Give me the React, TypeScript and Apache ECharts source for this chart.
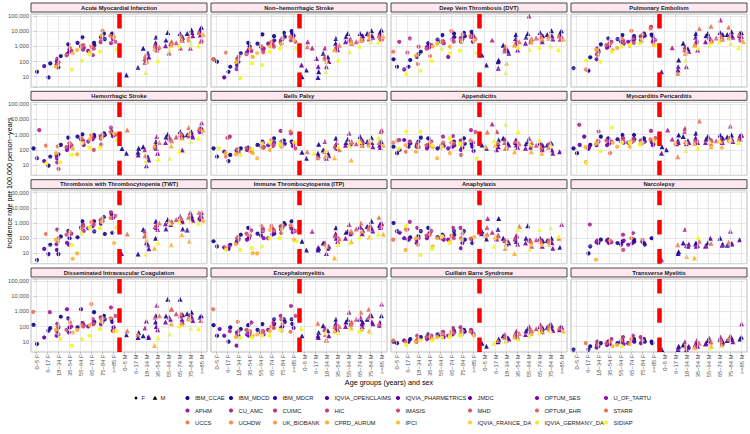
import React, { useEffect, useRef } from "react";
import * as echarts from "echarts";

const _ = null;

const ageGroups = ["0−5", "6−17", "18−34", "35−54", "55−64", "65−74", "75−84", ">=85"];
const sexes = ["F", "M"];
const categories = sexes.flatMap((s) => ageGroups.map((a) => `${a} ${s}`));

const dataSources = [
  "IBM_CCAE", "IBM_MDCD", "IBM_MDCR", "IQVIA_OPENCLAIMS", "IQVIA_PHARMETRICS", "JMDC", "OPTUM_SES", "U_OF_TARTU",
  "APHM", "CU_AMC", "CUIMC", "HIC", "IMASIS", "MHD", "OPTUM_EHR", "STARR",
  "UCCS", "UCHDW", "UK_BIOBANK", "CPRD_AURUM", "IPCI", "IQVIA_FRANCE_DA", "IQVIA_GERMANY_DA", "SIDIAP",
];
// sources whose points are plotted (column order of every rate table)
const plottedSources = ["IBM_CCAE", "IBM_MDCD", "IQVIA_PHARMETRICS", "OPTUM_SES", "CU_AMC", "IMASIS", "STARR", "CPRD_AURUM", "SIDIAP"];

const panelTitles = [
  "Acute Myocardial Infarction", "Non−hemorrhagic Stroke", "Deep Vein Thrombosis (DVT)", "Pulmonary Embolism",
  "Hemorrhagic Stroke", "Bells Palsy", "Appendicitis", "Myocarditis Pericarditis",
  "Thrombosis with Thrombocytopenia (TWT)", "Immune Thrombocytopenia (ITP)", "Anaphylaxis", "Narcolepsy",
  "Disseminated Intravascular Coagulation", "Encephalomyelitis", "Guillain Barre Syndrome", "Transverse Myelitis",
];

const yTickValues = [10, 100, 1000, 10000, 100000];

// rows: categories (0−5 F ... >=85 M), columns: plottedSources
const amiRates = [
  [_, 21, _, _, _, _, _, _, _],
  [75, 9, 50, _, _, _, _, _, _],
  [230, 40, 100, 60, 150, 90, 60, 45, _],
  [1350, 650, 400, 300, 500, 250, 770, 350, 30],
  [3900, 1700, 1000, 800, 600, 1200, 900, 570, 110],
  [1700, 1200, 800, 500, 270, 700, 1000, 400, 300],
  [7000, 3000, 5000, 4000, 1900, 2500, 10700, 5000, 440],
  [6000, 7000, 4000, 3000, 1600, 2000, 5000, 4000, 630],
  [_, 13, _, _, _, _, _, _, _],
  [_, 41, _, _, _, _, _, _, _],
  [740, 360, 200, 125, 90, 150, 250, 100, 19],
  [4000, 1700, 1000, 800, 570, 1200, 900, 700, 113],
  [8000, 2600, 1500, 1100, 360, 2000, 1800, 1200, 570],
  [7000, 4000, 3000, 2500, 770, 1700, 5000, 2500, 1050],
  [12000, 7000, 8000, 5000, 740, 3000, 4000, 2500, 1300],
  [18000, 12000, 10000, 5600, 2600, 2200, 8000, 6000, 1050],
];
const nhsRates = [
  [140, 97, _, _, _, _, 140, _, _],
  [45, 21, 9, _, _, _, 380, _, _],
  [350, 97, 59, 32, 150, 200, 120, 90, 8],
  [1700, 950, 600, 400, 500, 300, 700, 200, 76],
  [6100, 1500, 900, 700, 600, 400, 1000, 350, 59],
  [4700, 2500, 2000, 1500, 1200, 950, 2000, 1000, 440],
  [7800, 4300, 3000, 2600, 2000, 1500, 3500, 1500, 740],
  [10000, 7000, 5000, 3000, 2500, 2000, 4000, 2500, 740],
  [10, 28, 59, _, 2000, _, 950, _, _],
  [21, 9, 45, 160, 770, _, _, _, _],
  [350, 200, 100, 45, 770, 200, 150, 100, 21],
  [3300, 1600, 800, 600, 1000, 700, 1200, 600, 125],
  [7000, 4300, 3000, 2000, 2500, 1600, 2500, 1800, 440],
  [7000, 5000, 4000, 3000, 2500, 2000, 3500, 2500, 1000],
  [10700, 7000, 5000, 4000, 3500, 3000, 6000, 4000, 2000],
  [12000, 8000, 6000, 4000, 3500, 3000, 5000, 4500, 2000],
];
const dvtRates = [
  [140, 45, _, _, 2000, _, 440, _, _],
  [125, 45, 30, _, 3300, 380, _, _, 15],
  [440, 300, 200, _, _, 950, 68, 250, 25],
  [1600, 1000, 800, 900, 1200, 700, 230, 1000, 108],
  [5500, 2800, 2000, 1600, 2200, 1800, 2000, 1500, 630],
  [7000, 4000, 3000, 200, 2500, 2000, 10000, 950, 350],
  [7800, 4700, 3000, 2000, 3500, 2500, 6000, 2000, 520],
  [9000, 6000, 4000, 2000, 4000, 3000, 5000, 2500, 350],
  [270, 59, _, _, _, _, _, _, _],
  [120, 97, 36, _, 2600, _, _, _, _],
  [1200, 500, 350, 740, 700, 500, 1000, 76, 18],
  [6100, 3300, 1500, 570, 2500, 1500, 2000, 1200, 900],
  [7000, 4000, 2000, 1600, 100000, 3000, 3000, 2000, 630],
  [8000, 5000, 3000, 2000, 4000, 3500, 5000, 3000, 900],
  [10700, 6000, 5000, 3000, 4000, 3500, 4500, 3500, 1050],
  [10700, 7000, 5000, 3000, 4000, 3000, 5000, 3000, 630],
];
const peRates = [
  [36, _, _, _, _, _, _, _, _],
  [190, 25, _, _, _, _, 30, _, 113],
  [1350, 500, 300, 140, 740, 400, 270, 600, 97],
  [3300, 1500, 1000, 800, 2000, 1200, 1500, 570, 440],
  [5500, 3000, 2000, 1500, 2500, 1800, 3300, 770, 1000],
  [4700, 3000, 2500, 2000, 3500, 1700, 10700, 1050, 1200],
  [7000, 5000, 4000, 2600, 4500, 2000, 6000, 3000, 1600],
  [6000, 5000, 3000, 2000, 19000, 2600, 15000, 1200, 1200],
  [_, _, 21, _, _, _, _, _, _],
  [125, 28, 45, _, 810, _, 17, _, _],
  [1570, 700, 450, 45, 950, 600, 350, 500, 125],
  [7000, 4000, 2000, 570, 2600, 1500, 15000, 1200, 770],
  [7000, 5000, 3000, 2000, 4000, 2500, 21000, 2000, 1200],
  [8000, 6000, 4000, 3000, 55000, 3500, 5000, 3000, 2000],
  [9000, 6000, 5000, 4000, 5000, 4000, 18000, 3500, 1600],
  [8000, 7000, 5000, 3500, 4500, 2600, 6000, 2000, 850],
];
const hemRates = [
  [125, 28, _, _, 2000, _, _, _, _],
  [35, 9, 18, _, _, _, 190, _, 13],
  [210, 50, 28, 40, 15, 5.5, 170, 60, 15],
  [630, 270, 150, 98, 200, 150, 250, 120, 46],
  [1050, 740, 500, 210, 400, 300, 600, 50, 270],
  [950, 740, 500, 350, 600, 98, 900, 500, 140],
  [1230, 950, 700, 570, 800, 230, 1000, 600, 140],
  [1600, 1200, 950, 800, 2900, 1000, 1500, 1200, 440],
  [120, 60, _, _, _, _, 2000, _, _],
  [125, 68, 46, _, _, _, _, _, _],
  [160, 35, 21, 9, 100, _, 40, _, 18],
  [350, 200, 125, 60, 740, 150, 300, 200, 25],
  [1050, 700, 500, 300, 600, 400, 500, 180, 28],
  [1600, 950, 700, 98, 1000, 700, 1200, 600, 82],
  [1500, 1000, 900, 700, 1500, 800, 2900, 1200, 350],
  [3000, 2500, 2000, 1600, 6000, 2000, 2500, 2000, 570],
];
const bellsRates = [
  [125, 35, _, _, _, _, _, _, 130],
  [46, 18, 75, _, 740, 600, 35, 60, _],
  [125, 75, 100, 90, 80, 60, 110, 50, 46],
  [140, 100, 120, 98, 90, 130, 80, 60, 110],
  [350, 210, 200, 150, 300, 140, 150, 28, 250],
  [570, 300, 250, 200, 180, 210, 440, 98, 300],
  [400, 250, 300, 200, 1750, 350, 200, 150, 230],
  [350, 300, 250, 180, 1230, 125, 1600, 300, 300],
  [68, 28, _, _, _, _, 75, _, _],
  [230, 60, 40, _, _, _, 30, _, 60],
  [98, 60, 40, 28, 350, 80, 35, 45, 90],
  [570, 200, 150, 120, 300, 180, 100, 30, 160],
  [500, 300, 250, 200, 1230, 350, 300, 21, 180],
  [740, 400, 300, 200, 500, 250, 350, 200, 350],
  [630, 350, 300, 160, 400, 300, 250, 200, 440],
  [350, 300, 200, 140, 2000, 1600, 300, 200, 630],
];
const appendRates = [
  [160, 60, 100, _, 440, 400, 300, _, 120],
  [270, 160, 440, 300, 350, _, 75, 200, 1600],
  [630, 350, 200, 160, 250, 150, 180, 75, 1600],
  [570, 250, 180, 125, 350, 200, 300, 150, 200],
  [210, 125, 150, 180, 740, 300, 200, 28, 150],
  [350, 200, 160, 125, 810, 250, 300, 60, 570],
  [570, 250, 140, 98, 400, 46, 300, 200, 250],
  [250, 160, 83, 300, 2000, 1500, 400, _, 28],
  [210, 125, _, _, _, _, 1500, 160, _],
  [440, 270, 160, 100, 5000, 1600, 300, 200, 400],
  [570, 270, 210, 150, 500, 300, 120, 160, 4800],
  [440, 300, 210, 150, 400, 350, 250, 75, 1600],
  [350, 250, 150, 125, 570, 300, 200, 75, 250],
  [300, 200, 140, 100, 250, 200, 150, 60, 440],
  [270, 210, 98, 60, 300, 250, 150, _, 210],
  [_, _, 75, _, _, _, _, _, _],
];
const myoRates = [
  [125, 60, 210, _, 4400, _, _, _, _],
  [210, 120, 740, 150, _, _, 15, 150, 14],
  [740, 350, 250, 200, 300, 1600, 400, 250, 80],
  [570, 300, 250, 200, 350, 400, 60, 300, 2900],
  [950, 500, 350, 300, 600, 400, 350, 160, 300],
  [950, 500, 350, 300, 500, 400, 350, 160, 300],
  [570, 350, 300, 250, 400, 350, 300, 300, 220],
  [350, 300, 250, 200, 1750, 600, 500, 400, 300],
  [160, 100, 60, _, 2000, _, _, _, _],
  [950, 400, 300, 250, 500, _, 35, 300, _],
  [740, 400, 300, 250, 2600, 1600, 350, 300, 90],
  [1230, 600, 400, 300, 500, 400, 7800, 250, 130],
  [740, 500, 400, 300, 600, 450, 250, 160, 350],
  [950, 600, 400, 300, 500, 400, 350, 160, 400],
  [950, 700, 500, 350, 3700, 600, 500, 400, 500],
  [950, 800, 600, 500, 900, _, 500, _, 300],
];
const twtRates = [
  [_, 3.6, _, _, _, _, _, _, _],
  [37, 9, 20, _, _, _, 190, _, _],
  [130, 9, 17, 40, 370, 100, 60, 80, _],
  [300, 100, 37, 50, 200, 170, 250, 4.4, 35],
  [1300, 115, 500, 300, 800, 600, 400, 10, 200],
  [1300, 280, 620, 450, 1000, 800, 1200, 500, 480],
  [2500, 190, 1300, 900, 1500, 1700, 2000, 1200, 450],
  [3600, 230, 2500, 2200, 5000, 3000, 2200, 48, 520],
  [_, _, 10, _, _, _, 190, _, _],
  [_, 9, _, _, _, _, _, _, _],
  [370, 37, 20, 50, 300, 140, 170, 80, 9],
  [1300, 100, 500, 370, 800, 600, 1000, 22, 50],
  [1700, 400, 800, 900, 1200, 1300, 1000, 37, 1000],
  [2800, 400, 1500, 1200, 2000, 1700, 2000, 170, 1200],
  [3000, 350, 2000, 1500, 5000, 2500, 2500, 63, 1200],
  [3000, 2200, 2500, 1800, 5000, 2500, 5000, 1500, 1000],
];
const itpRates = [
  [63, 29, _, _, _, _, _, _, _],
  [37, 20, 25, 30, _, _, 22, _, 17],
  [170, 100, 60, 50, 100, 80, 120, 40, 17],
  [480, 135, 100, 80, 320, 200, 150, 10.5, 22],
  [290, 200, 150, 100, 400, 300, 620, 10, 29],
  [290, 200, 180, 100, 400, 300, 620, 350, 100],
  [1000, 800, 500, 370, 600, 220, 700, 400, 100],
  [1300, 400, 300, 250, 480, 300, 700, 80, 63],
  [63, 17, _, _, _, _, _, _, _],
  [22, 17, 25, _, 290, _, _, _, _],
  [48, 22, 30, 10, 50, _, 40, 30, _],
  [480, 200, 100, 60, 150, 150, 90, 5, 40],
  [290, 250, 200, 100, 800, 250, 300, 60, 50],
  [600, 350, 300, 200, 500, 400, 1000, 300, 115],
  [1300, 600, 400, 300, 700, 400, 500, 120, 115],
  [1000, 800, 700, 500, 900, 600, 2400, 180, 190],
];
const anaRates = [
  [1000, 290, 230, _, _, _, 80, _, _],
  [115, 80, 100, 90, 1200, 370, 370, 17, 620],
  [290, 135, 80, 48, 480, 100, 37, 100, 8],
  [480, 220, 150, 100, 300, 150, 180, 29, 20],
  [170, 120, 100, 80, 150, 130, 110, 100, 130],
  [290, 170, 120, 80, 480, 100, 150, 60, 48],
  [290, 80, 48, 22, 480, 100, 200, 80, _],
  [90, 48, _, _, _, _, 90, 120, _],
  [290, 90, 200, _, 2000, 500, 180, 150, _],
  [2000, 370, 150, 90, 250, 100, 150, 120, 29],
  [100, 60, 48, 40, 70, 80, 22, 60, 29],
  [130, 90, 60, 40, 150, 100, 620, 10, 370],
  [650, 100, 70, 48, 80, 29, 60, 40, 19],
  [100, 70, 60, 29, 90, 80, 60, 40, 370],
  [100, 70, 50, 22, 80, 60, 70, 40, 480],
  [_, 25, _, _, 800, _, 100, _, 130],
];
const narcRates = [
  [_, _, _, _, _, _, _, _, _],
  [29, 10, _, _, 800, _, _, _, _],
  [80, 48, 60, 55, 70, _, _, 3.8, _],
  [80, 60, 48, 70, 55, _, 70, _, _],
  [60, 48, 37, 70, 170, 17, _, _, _],
  [80, 60, 48, 37, 220, _, 100, _, _],
  [48, 37, 60, _, _, _, 80, _, _],
  [100, _, _, _, _, _, _, _, _],
  [_, _, 3.8, _, _, _, _, _, _],
  [13, 10, _, _, _, _, 37, _, _],
  [48, 29, 40, 35, 370, _, _, 6.3, _],
  [48, 40, 29, 35, _, _, 63, 5, 115],
  [48, 35, 100, 29, _, _, 45, _, _],
  [100, 40, 35, _, _, _, _, _, _],
  [40, 35, 45, _, 290, _, 55, _, _],
  [_, _, 80, _, _, _, _, _, _],
];
const dicRates = [
  [130, 7, _, _, _, _, 930, _, _],
  [79, 53, 19, _, 880, _, _, _, _],
  [440, 87, 50, 25, 150, 30, 100, 60, 15],
  [340, 87, 40, 1380, 100, 60, 185, 40, 5.5],
  [170, 87, 1380, 120, 150, 100, 120, 60, 15],
  [880, 200, 150, 100, 300, 150, 3000, 120, 25],
  [510, 300, 200, 145, 400, 300, 350, 200, 68],
  [300, 200, 87, 53, 1800, 500, 350, 50, 50],
  [_, 29, _, _, _, _, 53, _, _],
  [40, 19, _, _, _, _, 30, _, _],
  [25, 19, 20, 230, 80, _, _, _, _],
  [510, 200, 100, 60, 2500, 400, 510, 5.5, 18],
  [6300, 500, 300, 200, 400, 1380, 1380, 150, 32],
  [6300, 600, 300, 200, 500, 700, 700, 150, 112],
  [880, 700, 400, 250, 600, 400, 350, 300, 80],
  [510, 400, _, _, _, 250, _, _, 70],
];
const encRates = [
  [123, 25, 68, _, _, _, 1380, _, _],
  [87, 10, 25, _, 50, _, _, _, _],
  [68, 25, 40, 5.5, 30, 50, 205, 20, 18],
  [123, 40, 25, 30, 185, 60, 50, 25, 19],
  [145, 60, 40, 30, 50, 40, 50, 30, 25],
  [300, 150, 100, 60, 180, 80, 100, 50, 25],
  [300, 200, 100, 80, 510, 300, 150, 53, 60],
  [300, 150, 80, _, 2300, 500, 45, _, _],
  [25, _, _, _, _, _, _, _, 75],
  [40, 25, 19, _, _, _, 166, _, _],
  [112, 53, 25, 13, 80, 60, 30, 13, 40],
  [300, 150, 80, 60, 150, 100, 100, 50, 40],
  [300, 200, 145, 100, 880, 200, 150, 80, 70],
  [300, 200, 150, 100, 400, 300, 880, 68, 50],
  [510, 300, 200, 150, 600, 400, 1380, 53, 40],
  [510, 185, 123, _, 3000, _, 150, _, _],
];
const gbsRates = [
  [10, 8, _, _, _, _, 12, _, _],
  [15, 10, 12, _, _, _, 10, _, 6],
  [20, 15, 12, 10, 25, 15, 18, 10, 12],
  [30, 20, 18, 15, 25, 20, 22, 15, 12],
  [40, 30, 25, 20, 45, 30, 35, 20, 18],
  [50, 40, 30, 25, 80, 40, 45, 25, 20],
  [60, 45, 35, 30, 90, 50, 50, 30, 25],
  [50, 40, 30, _, 60, _, 45, 25, _],
  [8, 5, _, _, _, _, _, _, _],
  [15, 10, 12, _, _, _, 12, _, 8],
  [25, 18, 15, 12, 30, 20, 20, 12, 10],
  [40, 30, 25, 20, 50, 30, 35, 20, 15],
  [70, 50, 40, 30, 100, 50, 60, 35, 25],
  [100, 80, 60, 45, 130, 70, 90, 50, 40],
  [120, 90, 70, 55, 150, 80, 100, 60, 50],
  [100, 80, 60, _, 90, _, 80, 50, _],
];
const tmRates = [
  [3, _, _, _, _, _, _, _, _],
  [5, 3, _, _, _, _, 8, _, _],
  [8, 5, 6, 4, 10, _, 6, _, _],
  [10, 7, 8, 6, 15, 8, 10, 5, _],
  [12, 8, 10, 7, 20, _, 12, 6, 5],
  [15, 10, 12, 8, 25, _, 15, 7, _],
  [15, 10, 12, 8, 20, _, 12, _, _],
  [10, 8, _, _, _, _, _, _, _],
  [3, _, _, _, _, _, _, _, _],
  [5, 3, 4, _, _, _, _, _, _],
  [6, 4, 5, 3, 10, _, 5, _, _],
  [8, 6, 7, 5, 12, 6, 8, 4, _],
  [12, 8, 10, 7, 18, _, 10, 5, 4],
  [15, 10, 12, 8, 20, _, 12, 6, _],
  [18, 12, 14, 10, 25, _, 15, _, _],
  [20, 15, _, _, 150, _, _, _, _],
];

const panelRates = [
  amiRates, nhsRates, dvtRates, peRates,
  hemRates, bellsRates, appendRates, myoRates,
  twtRates, itpRates, anaRates, narcRates,
  dicRates, encRates, gbsRates, tmRates,
];

// ---------- styling / layout ----------
const FONT = '"Liberation Sans", Arial, Helvetica, sans-serif';
const PANEL_LEFT = [31, 211, 391, 571];
const PANEL_TOP = [14, 102.3, 190.7, 279];
const PANEL_W = 176;
const PANEL_H = 73;
const Y_MIN = 2.09;
const Y_MAX = 135000;
const JITTER = [-0.27, 0.13, -0.06, 0.25, -0.17, 0.05, 0.21, -0.23, 0.09, -0.11, 0.29, -0.01, 0.17, -0.3, 0.01, 0.23, -0.14];
const jitter = (s: number, c: number) => JITTER[(s * 5 + c * 3) % JITTER.length];

const PLASMA = ["#0d0887", "#41049d", "#6a00a8", "#8f0da4", "#b12a90", "#cc4778", "#e16462", "#f2844b", "#fca636", "#fcce25", "#f0f921"];
function hexRgb(h: string) {
  return [parseInt(h.slice(1, 3), 16), parseInt(h.slice(3, 5), 16), parseInt(h.slice(5, 7), 16)];
}
function plasma(t: number) {
  const x = Math.max(0, Math.min(1, t)) * 10;
  const i = Math.min(9, Math.floor(x));
  const f = x - i;
  const a = hexRgb(PLASMA[i]);
  const b = hexRgb(PLASMA[i + 1]);
  const c = a.map((v, k) => Math.round(v + (b[k] - v) * f));
  return `rgb(${c[0]},${c[1]},${c[2]})`;
}
const sourceColor = (name: string) => plasma(dataSources.indexOf(name) / (dataSources.length - 1));

const yLabel = (v: number) => {
  const r = Math.round(v);
  return yTickValues.includes(r) && Math.abs(v - r) < 1e-3 * r ? r.toLocaleString("en-US") : "";
};

function buildOption() {
  const grid: any[] = [];
  const xAxis: any[] = [];
  const yAxis: any[] = [];
  const series: any[] = [];
  const graphic: any[] = [];
  const minorY = [0.5, 1.5, 2.5, 3.5, 4.5].map((e) => Math.pow(10, e));

  panelTitles.forEach((title, p) => {
    const col = p % 4;
    const row = Math.floor(p / 4);
    const left = PANEL_LEFT[col];
    const top = PANEL_TOP[row];
    grid.push({
      left, top, width: PANEL_W, height: PANEL_H, show: true,
      borderColor: "#BDBDBD", borderWidth: 1, backgroundColor: "#FFFFFF",
    });
    const xi = xAxis.length;
    xAxis.push({ type: "value", gridIndex: p, min: -0.5, max: 15.5, show: false, position: "top" });
    if (row === 3) {
      xAxis.push({
        type: "category", gridIndex: p, data: categories, boundaryGap: true, position: "bottom",
        axisLine: { show: false },
        axisTick: { show: true, alignWithLabel: true, length: 2.5, lineStyle: { color: "#B3B3B3", width: 0.8 } },
        axisLabel: { rotate: 90, fontSize: 5.8, color: "#4D4D4D", margin: 2.5, interval: 0, fontFamily: FONT },
        splitLine: { show: false },
      });
    }
    yAxis.push({
      type: "log", logBase: 10, gridIndex: p, min: Y_MIN, max: Y_MAX,
      axisLine: { show: false },
      axisTick: { show: col === 0, length: 2, lineStyle: { color: "#B3B3B3", width: 0.8 } },
      axisLabel: { show: col === 0, fontSize: 5.8, color: "#4D4D4D", margin: 2, formatter: yLabel, fontFamily: FONT },
      splitLine: { show: true, lineStyle: { color: "#DEDEDE", width: 0.7 } },
    });

    // background grid lines (vertical at categories, minor horizontal)
    series.push({
      type: "scatter", xAxisIndex: xi, yAxisIndex: p, data: [], silent: true, z: 1,
      markLine: {
        silent: true, symbol: ["none", "none"], label: { show: false }, animation: false,
        lineStyle: { color: "#DEDEDE", width: 0.7, type: "solid" },
        emphasis: { disabled: true },
        data: [
          ...categories.map((_c, i) => ({ xAxis: i })),
          ...minorY.map((v) => ({ yAxis: v, lineStyle: { color: "#EFEFEF", width: 0.4, type: "solid" } })),
        ],
      },
    });

    const rates = panelRates[p];
    plottedSources.forEach((src, s) => {
      const pts: number[][] = [];
      rates.forEach((r, c) => {
        const v = r[s];
        if (v != null) pts.push([c + jitter(s, c), v]);
      });
      series.push({
        type: "scatter", name: src, xAxisIndex: xi, yAxisIndex: p, data: pts, silent: true, z: 3,
        symbol: (val: number[]) => (val[0] < 7.5 ? "circle" : "triangle"),
        symbolSize: (val: number[]) => (val[0] < 7.5 ? 4.2 : 5),
        itemStyle: { color: sourceColor(src), opacity: 0.92 },
      });
    });

    // red dashed separator between F and M
    series.push({
      type: "scatter", xAxisIndex: xi, yAxisIndex: p, data: [], silent: true, z: 6,
      markLine: {
        silent: true, symbol: ["none", "none"], label: { show: false }, animation: false,
        emphasis: { disabled: true },
        lineStyle: { color: "#FF0000", width: 4.5, type: [14.6, 14.6], opacity: 1 },
        data: [{ xAxis: 7.5 }],
      },
    });

    // strip
    graphic.push({
      type: "rect", silent: true, z: 10,
      shape: { x: left, y: top - 11, width: PANEL_W, height: 9 },
      style: { fill: "#FDE8EF", stroke: "#333333", lineWidth: 0.9 },
    });
    graphic.push({
      type: "text", silent: true, z: 11, x: left + PANEL_W / 2, y: top - 6.5,
      style: { text: title, fontSize: 5.8, fontWeight: "bold", fontFamily: FONT, fill: "#1A1A1A", align: "center", verticalAlign: "middle" },
    });
  });

  // axis titles
  graphic.push({
    type: "text", silent: true, x: 9, y: 183, rotation: Math.PI / 2,
    style: { text: "Incidence rate per 100,000 person−years", fontSize: 7.2, fontFamily: FONT, fill: "#000000", align: "center", verticalAlign: "middle" },
  });
  graphic.push({
    type: "text", silent: true, x: 389, y: 382.5,
    style: { text: "Age groups (years) and sex", fontSize: 7.2, fontFamily: FONT, fill: "#000000", align: "center", verticalAlign: "middle" },
  });

  // legend: shape key
  const ly = [398, 410.5, 422.5];
  graphic.push({ type: "circle", silent: true, shape: { cx: 136, cy: ly[0], r: 1.4 }, style: { fill: "#000" } });
  graphic.push({ type: "text", silent: true, x: 141.5, y: ly[0], style: { text: "F", fontSize: 5.8, fontFamily: FONT, fill: "#1A1A1A", verticalAlign: "middle" } });
  graphic.push({ type: "polygon", silent: true, shape: { points: [[155, ly[0] - 2.2], [152.6, ly[0] + 1.8], [157.4, ly[0] + 1.8]] }, style: { fill: "#000" } });
  graphic.push({ type: "text", silent: true, x: 160.5, y: ly[0], style: { text: "M", fontSize: 5.8, fontFamily: FONT, fill: "#1A1A1A", verticalAlign: "middle" } });

  // legend: data sources (8 columns, by row)
  const colX = [187.5, 231, 275, 327, 398, 470, 537, 606];
  dataSources.forEach((src, k) => {
    const r = Math.floor(k / 8);
    const c = k % 8;
    graphic.push({ type: "circle", silent: true, shape: { cx: colX[c], cy: ly[r], r: 2.1 }, style: { fill: sourceColor(src) } });
    graphic.push({ type: "text", silent: true, x: colX[c] + 7.5, y: ly[r], style: { text: src, fontSize: 5.8, fontFamily: FONT, fill: "#1A1A1A", verticalAlign: "middle" } });
  });

  return {
    animation: false,
    backgroundColor: "#FFFFFF",
    textStyle: { fontFamily: FONT },
    grid, xAxis, yAxis, series, graphic,
  };
}

export default function App() {
  const ref = useRef<HTMLDivElement>(null);
  useEffect(() => {
    if (!ref.current) return;
    const chart = echarts.init(ref.current, undefined, { renderer: "svg" });
    chart.setOption(buildOption() as any);
    return () => chart.dispose();
  }, []);
  return <div ref={ref} style={{ position: "fixed", left: 0, top: 0, width: 750, height: 434 }} />;
}
